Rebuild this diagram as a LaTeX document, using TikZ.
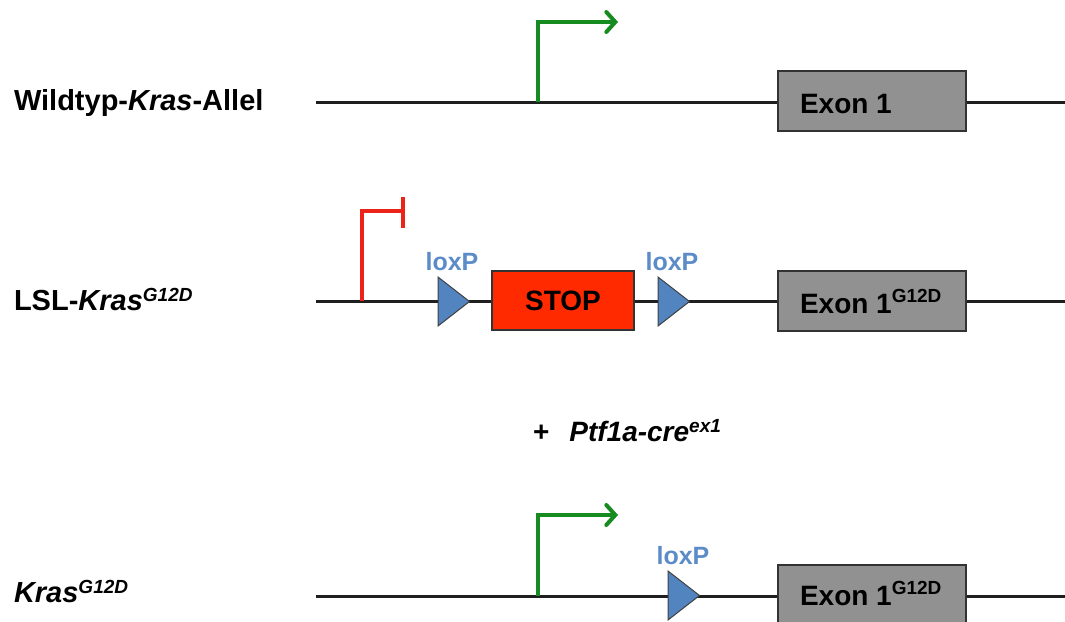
\documentclass[tikz,border=0pt]{standalone}
\usepackage{fontspec}
\setmainfont{Liberation Sans}
\usetikzlibrary{arrows.meta}
\definecolor{promgreen}{RGB}{22,140,32}
\definecolor{blockred}{RGB}{235,35,25}
\definecolor{stopred}{RGB}{255,42,0}
\definecolor{exongray}{RGB}{145,145,145}
\definecolor{loxblue}{RGB}{82,132,192}
\definecolor{loxtext}{RGB}{92,140,200}
\newcommand\supG[2]{\raisebox{#1}{\fontsize{19}{20}\selectfont #2}}
\begin{document}
\begin{tikzpicture}[x=1pt,y=-1pt,
  every node/.style={font=\fontsize{28}{32}\selectfont\bfseries, inner sep=0pt, outer sep=0pt},
  dna/.style={line width=3pt, draw=black!88},
  prom/.style={line width=4pt, draw=promgreen, -{Straight Barb[length=9pt,width=20pt,line cap=round]}},
  blocked/.style={line width=3.5pt, draw=blockred},
  exonbox/.style={draw=black!80, line width=1.3pt, fill=exongray, minimum width=188pt, minimum height=60pt},
  stopbox/.style={draw=black!80, line width=1.3pt, fill=stopred, minimum width=142pt, minimum height=59pt},
  loxlabel/.style={font=\fontsize{25}{28}\selectfont\bfseries, text=loxtext, anchor=base},
  rowlabel/.style={anchor=base west, font=\fontsize{29}{32}\selectfont\bfseries},
  loxsite/.pic={\filldraw[fill=loxblue, draw=black!75, line width=1pt] (0,-24.5) -- (31.5,0) -- (0,24.5) -- cycle;}
]
\useasboundingbox (0,0) rectangle (1065,621);

% ---- wild-type allele ----
\node[rowlabel] (lab1) at (14,110) {Wildtyp-\textit{Kras}-Allel};
\coordinate (a1) at (316,102);
\coordinate (z1) at (1065,102);
\draw[dna] (a1) -- (z1);
\coordinate (tss1) at (538,102);
\coordinate (tip1) at (618,22);
\draw[prom] (tss1) |- (tip1);
\node[exonbox] (ex1) at (872,101) {};
\node[anchor=base west] (ex1t) at (800,113) {Exon 1};

% ---- LSL allele ----
\node[rowlabel] (lab2) at (14,310) {LSL-\textit{Kras}\supG{9pt}{\textit{G12D}}};
\coordinate (a2) at (316,301);
\coordinate (z2) at (1065,301);
\draw[dna] (a2) -- (z2);
\coordinate (tss2) at (362,301);
\coordinate (blk) at (403,211);
\coordinate (blkT) at (403,197);
\coordinate (blkB) at (403,228);
\draw[blocked] (tss2) |- (blk);
\draw[blocked] (blkT) -- (blkB);
\pic at (438,301.5) {loxsite};
\node[loxlabel] (lx1) at (452,270) {loxP};
\node[stopbox] (stop) at (563,300.5) {STOP};
\pic at (658,301.5) {loxsite};
\node[loxlabel] (lx2) at (672,270) {loxP};
\node[exonbox] (ex2) at (872,301) {};
\node[anchor=base west] (ex2t) at (800,313) {Exon 1\supG{11pt}{G12D}};

% ---- cre line ----
\node[anchor=base west] (cre) at (533,441) {+\hspace{20pt}\textit{Ptf1a-cre}\supG{9pt}{\textit{ex1}}};

% ---- recombined allele ----
\node[rowlabel] (lab4) at (14,602) {\textit{Kras}\supG{9pt}{\textit{G12D}}};
\coordinate (a4) at (316,596);
\coordinate (z4) at (1065,596);
\draw[dna] (a4) -- (z4);
\coordinate (tss4) at (538,596);
\coordinate (tip4) at (618,515);
\draw[prom] (tss4) |- (tip4);
\pic at (668,595.5) {loxsite};
\node[loxlabel] (lx3) at (683,564) {loxP};
\node[exonbox] (ex4) at (872,595) {};
\node[anchor=base west] (ex4t) at (800,605) {Exon 1\supG{11pt}{G12D}};
\end{tikzpicture}
\end{document}
